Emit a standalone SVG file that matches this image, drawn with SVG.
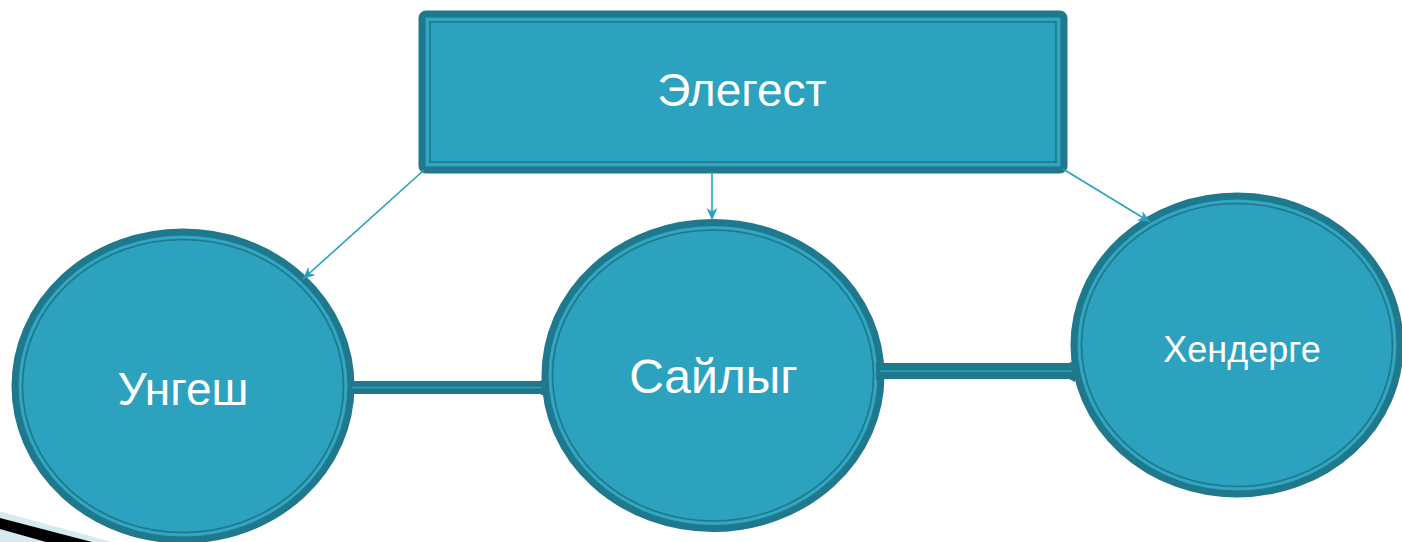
<svg xmlns="http://www.w3.org/2000/svg" width="1402" height="542" viewBox="0 0 1402 542">
<defs>
<style>
.outer{fill:#2ca2bf;stroke:#1f788b;stroke-width:7;}
.ring-l{fill:none;stroke:#34a9c5;stroke-width:1.6;}
.ring-d{fill:none;stroke:#1f788b;stroke-width:1.6;}
.lbl{font-family:"Liberation Sans",Arial,sans-serif;fill:#ffffff;text-anchor:middle;}
.arrow{stroke:#2a9fbe;stroke-width:1.6;fill:none;marker-end:url(#ah);}
.bar{fill:#1f788b;}
.barline{stroke:#2ca2bf;stroke-width:1.6;}
</style>
<marker id="ah" markerUnits="userSpaceOnUse" markerWidth="14" markerHeight="14" viewBox="0 0 14 14" refX="12" refY="7" orient="auto">
<path d="M0,1.5 L12,7 L0,12.5 L3.5,7 Z" fill="#2a9fbe"/>
</marker>
</defs>
<rect width="1402" height="542" fill="#ffffff"/>
<g id="decoration">
<polygon points="0,511.5 0,542 112,542" fill="#d7e9f1"/>
<polygon points="0,518 0,529 46,542 92,542" fill="#000000"/>
</g>
<g id="node-elegest">
<rect x="422" y="14" width="642" height="156" rx="4" class="outer"/>
<rect x="427.5" y="19.5" width="631" height="145" class="ring-l"/>
<rect x="430" y="22" width="626" height="140" class="ring-d"/>
<text x="742" y="106" font-size="46" class="lbl">Элегест</text>
</g>
<g id="node-ungesh">
<ellipse cx="183" cy="386" rx="168" ry="154" class="outer"/>
<ellipse cx="183" cy="386" rx="163" ry="149" class="ring-l"/>
<ellipse cx="183" cy="386" rx="160.5" ry="146.5" class="ring-d"/>
<text x="183" y="405" font-size="46" class="lbl">Унгеш</text>
</g>
<g id="node-sailyg">
<ellipse cx="713" cy="375.5" rx="168" ry="153" class="outer"/>
<ellipse cx="713" cy="375.5" rx="163" ry="148" class="ring-l"/>
<ellipse cx="713" cy="375.5" rx="160.5" ry="145.5" class="ring-d"/>
<text x="713.5" y="393" font-size="48" class="lbl">Сайлыг</text>
</g>
<g id="node-henderge">
<ellipse cx="1237" cy="345" rx="163" ry="149" class="outer"/>
<ellipse cx="1237" cy="345" rx="158" ry="144" class="ring-l"/>
<ellipse cx="1237" cy="345" rx="155.5" ry="141.5" class="ring-d"/>
<text x="1242" y="362" font-size="36" class="lbl">Хендерге</text>
</g>
<g id="connectors">
<path d="M348,380 L352,381 L540,381 L546,378 L546,397 L540,394 L352,394 L348,395 Z" class="bar"/>
<line x1="352" y1="387.5" x2="542" y2="387.5" class="barline"/>
<path d="M876,362 L880,363 L1069,363 L1075,360 L1075,382 L1069,379 L880,379 L876,380 Z" class="bar"/>
<line x1="880" y1="371" x2="1072" y2="371" class="barline"/>
<line x1="424" y1="170" x2="303" y2="279" class="arrow"/>
<line x1="712" y1="172" x2="712" y2="220" class="arrow"/>
<line x1="1063" y1="169" x2="1150" y2="222" class="arrow"/>
</g>
</svg>
